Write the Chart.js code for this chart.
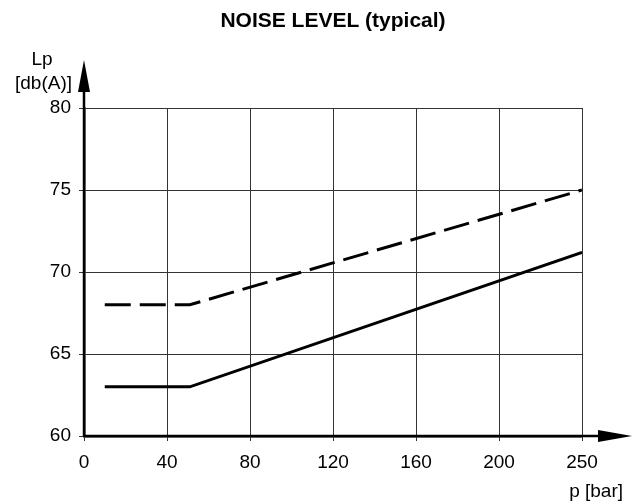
<!DOCTYPE html>
<html>
<head>
<meta charset="utf-8">
<script src="https://cdn.jsdelivr.net/npm/chart.js@4/dist/chart.umd.min.js"></script>
<style>
  html, body { margin: 0; padding: 0; background: #fff; }
  #wrap { width: 635px; height: 503px; }
</style>
</head>
<body>
<div id="wrap"><canvas id="noise"></canvas></div>
<script>
// values
const pressure = [10, 51, 250];          // p [bar]
const levelSolid = [63, 63, 71.2];       // Lp [db(A)]
const levelDashed = [68, 68, 75];
const xTickLabels = ['0', '40', '80', '120', '160', '200', '250'];

// the last grid step is 200..250 but drawn as wide as the 40-bar steps
function axisPos(p) {
  return p <= 200 ? p : 200 + (p - 200) * 40 / 50;
}
function toPoints(ys) {
  return pressure.map((p, i) => ({ x: axisPos(p), y: ys[i] }));
}

const FONT = '"Liberation Sans", Arial, sans-serif';

const decor = {
  id: 'decor',
  afterDraw(chart) {
    const ctx = chart.ctx;
    const a = chart.chartArea;
    ctx.save();
    ctx.fillStyle = '#000';
    ctx.strokeStyle = '#000';
    ctx.lineWidth = 2.5;
    // axis extensions
    ctx.beginPath();
    ctx.moveTo(a.left, a.bottom);
    ctx.lineTo(a.left, 80);
    ctx.moveTo(a.left, a.bottom);
    ctx.lineTo(605, a.bottom);
    ctx.stroke();
    // arrow heads
    ctx.beginPath();
    ctx.moveTo(a.left, 60);
    ctx.lineTo(a.left - 6, 92);
    ctx.lineTo(a.left + 6, 92);
    ctx.closePath();
    ctx.fill();
    ctx.beginPath();
    ctx.moveTo(632, a.bottom);
    ctx.lineTo(598, a.bottom - 6);
    ctx.lineTo(598, a.bottom + 6);
    ctx.closePath();
    ctx.fill();
    // texts
    ctx.font = 'bold 21px ' + FONT;
    ctx.textAlign = 'center';
    ctx.textBaseline = 'middle';
    ctx.fillText('NOISE LEVEL (typical)', (a.left + a.right) / 2, 21);
    ctx.font = '19px ' + FONT;
    ctx.fillText('Lp', 42, 60);
    ctx.textAlign = 'right';
    ctx.fillText('[db(A)]', 72, 84);
    ctx.fillText('p [bar]', 623, 492);
    ctx.restore();
  }
};

new Chart(document.getElementById('noise'), {
  type: 'line',
  data: {
    datasets: [
      {
        label: 'solid',
        data: toPoints(levelSolid),
        borderColor: '#000',
        borderWidth: 3,
        pointRadius: 0,
        fill: false
      },
      {
        label: 'dashed',
        data: toPoints(levelDashed),
        borderColor: '#000',
        borderWidth: 3,
        borderDash: [26, 9],
        pointRadius: 0,
        fill: false
      }
    ]
  },
  options: {
    responsive: true,
    maintainAspectRatio: false,
    animation: false,
    layout: { padding: { left: 0, right: 53, top: 108, bottom: 0 } },
    plugins: {
      legend: { display: false },
      title: { display: false },
      tooltip: { enabled: false }
    },
    scales: {
      x: {
        type: 'linear',
        min: 0,
        max: 240,
        afterFit(scale) { scale.height = 67; },
        afterBuildTicks(scale) {
          scale.ticks = xTickLabels.map((t, i) => ({ value: i * 40 }));
        },
        ticks: {
          color: '#000',
          font: { family: FONT, size: 19 },
          padding: 10,
          maxRotation: 0,
          autoSkip: false,
          callback: (v, i) => xTickLabels[i]
        },
        grid: { color: '#333', lineWidth: 1, tickLength: 5 },
        border: { color: '#000', width: 2.5 }
      },
      y: {
        min: 60,
        max: 80,
        afterFit(scale) { scale.width = 84; },
        ticks: {
          stepSize: 5,
          color: '#000',
          font: { family: FONT, size: 19 },
          padding: 8
        },
        grid: { color: '#333', lineWidth: 1, tickLength: 5 },
        border: { color: '#000', width: 2.5 }
      }
    }
  },
  plugins: [decor]
});
</script>
</body>
</html>
